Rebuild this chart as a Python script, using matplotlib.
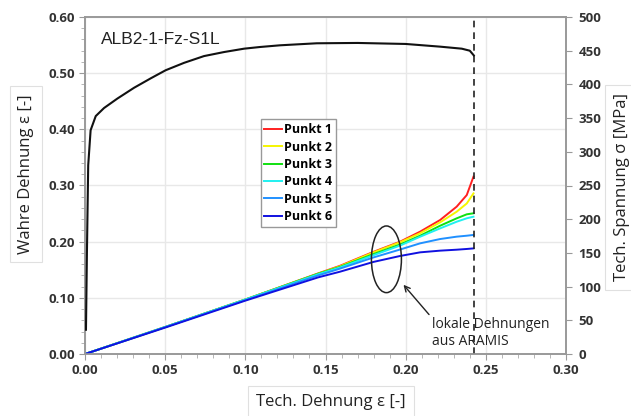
import matplotlib
matplotlib.use("Agg")
import matplotlib.pyplot as plt
from matplotlib.patches import Ellipse

# ---- data ----
stress_x = [0.0006, 0.0012, 0.002, 0.0035, 0.0067, 0.0119, 0.0202, 0.0306, 0.041, 0.0503,
            0.0618, 0.0742, 0.0867, 0.0992, 0.1092, 0.1216, 0.1445, 0.17, 0.20, 0.2215,
            0.235, 0.240, 0.2425]
stress_mpa = [36, 150, 280, 332, 353, 365, 379, 395, 409, 421,
              432, 442, 448, 453, 455.5, 458, 461, 461.5, 460, 456,
              453, 450, 443]

strain_x = [0.0, 0.05, 0.10, 0.1455, 0.159, 0.180, 0.1965, 0.209, 0.2215, 0.2318, 0.2381, 0.2423]
punkt1 = [0.0, 0.048, 0.097, 0.1436, 0.157, 0.182, 0.200, 0.2178, 0.2386, 0.2623, 0.283, 0.3157]
punkt2 = [0.0, 0.048, 0.097, 0.1430, 0.156, 0.181, 0.199, 0.2150, 0.2344, 0.2533, 0.268, 0.286]
punkt3 = [0.0, 0.048, 0.097, 0.1430, 0.155, 0.178, 0.195, 0.2106, 0.2284, 0.2415, 0.2487, 0.2505]
punkt4 = [0.0, 0.048, 0.097, 0.1420, 0.154, 0.176, 0.193, 0.2088, 0.2237, 0.2355, 0.2416, 0.2445]
punkt5 = [0.0, 0.048, 0.096, 0.1400, 0.152, 0.172, 0.186, 0.1970, 0.2047, 0.2089, 0.2106, 0.212]
punkt6 = [0.0, 0.047, 0.095, 0.1365, 0.1465, 0.164, 0.1745, 0.1810, 0.1840, 0.1857, 0.187, 0.188]
labels = ["Punkt 1", "Punkt 2", "Punkt 3", "Punkt 4", "Punkt 5", "Punkt 6"]
colors = ["#ff2020", "#f5f500", "#10e010", "#20f0f0", "#2090ff", "#1010e0"]

x_ticks = [0.00, 0.05, 0.10, 0.15, 0.20, 0.25, 0.30]
y_ticks = [0.00, 0.10, 0.20, 0.30, 0.40, 0.50, 0.60]
y2_ticks = list(range(0, 501, 50))
fracture_x = 0.2427

fig = plt.figure(figsize=(6.31, 4.16), dpi=100)
ax = fig.add_axes([85/631, 62/416, 481/631, 337/416])
ax2 = ax.twinx()

tick_font = dict(family="Open Sans", weight="bold", size=9.5)
label_font = dict(family="Open Sans", size=12)

# strain curves
for ys, lab, c in zip([punkt1, punkt2, punkt3, punkt4, punkt5, punkt6], labels, colors):
    ax.plot(strain_x, ys, color=c, lw=1.4, label=lab, zorder=3, solid_joinstyle="round")

# stress curve on right axis
ax2.plot(stress_x, stress_mpa, color="#111111", lw=1.5, zorder=3, solid_joinstyle="round")
ax.axvline(fracture_x, color="#222222", lw=1.2, ls=(0, (4, 3)), zorder=4)

ax.set_xlim(0, 0.30)
ax.set_ylim(0, 0.60)
ax2.set_ylim(0, 500)
ax.set_xticks(x_ticks)
ax.set_yticks(y_ticks)
ax2.set_yticks(y2_ticks)
ax.set_xticks([i * 0.01 for i in range(31)], minor=True)
ax.set_yticks([i * 0.02 for i in range(31)], minor=True)
ax.set_xticklabels([f"{v:.2f}" for v in x_ticks], **tick_font)
ax.set_yticklabels([f"{v:.2f}" for v in y_ticks], **tick_font)
ax2.set_yticklabels([str(v) for v in y2_ticks], **tick_font)

ax.grid(True, which="major", color="#e8e8e8", lw=1.0, zorder=0)
ax.set_axisbelow(True)
for a in (ax, ax2):
    for s in a.spines.values():
        s.set_color("#999999")
        s.set_linewidth(1.2)
ax.tick_params(which="major", direction="out", length=4, color="#999999", labelcolor="#333333", pad=3)
ax.tick_params(which="minor", direction="out", length=3, color="#aaaaaa")
ax2.tick_params(which="major", direction="out", length=4, color="#999999", labelcolor="#333333", pad=5)

leg = ax.legend(loc="upper left", bbox_to_anchor=(0.365, 0.696), borderaxespad=0,
                prop=dict(family="Open Sans", weight="bold", size=9),
                handlelength=1.4, handletextpad=0.15, labelspacing=0.35,
                fancybox=False, edgecolor="#999999", framealpha=1, borderpad=0.3)
leg.get_frame().set_linewidth(1.0)
leg.set_zorder(5)

ax.text(0.034, 0.955, "ALB2-1-Fz-S1L", transform=ax.transAxes, ha="left", va="top",
        family="Liberation Sans", size=12.5, color="#222222")

ell = Ellipse((0.188, 0.1686), 0.0187, 0.1187, fill=False, edgecolor="#222222", lw=1.1, zorder=5)
ax.add_patch(ell)
ax.annotate("", xy=(0.1975, 0.127), xytext=(0.2157, 0.0665),
            arrowprops=dict(arrowstyle="->", color="#222222", lw=1.0), zorder=5)
ax.text(0.2163, 0.066, "lokale Dehnungen\naus ARAMIS", ha="left", va="top",
        family="Open Sans", size=10, color="#222222", linespacing=1.15, zorder=6)

box = dict(boxstyle="square,pad=0.5", facecolor="white", edgecolor="#e0e0e0", lw=0.8)
fig.text(0.041, 0.582, "Wahre Dehnung ε [-]", rotation=90, ha="center", va="center",
         color="#222222", bbox=box, **label_font)
fig.text(0.985, 0.55, "Tech. Spannung σ [MPa]", rotation=90, ha="center", va="center",
         color="#222222", bbox=box, **label_font)
fig.text(0.525, 0.034, "Tech. Dehnung ε [-]", ha="center", va="center",
         color="#222222", bbox=box, **label_font)

fig.savefig("out.png", dpi=100, facecolor="white")
